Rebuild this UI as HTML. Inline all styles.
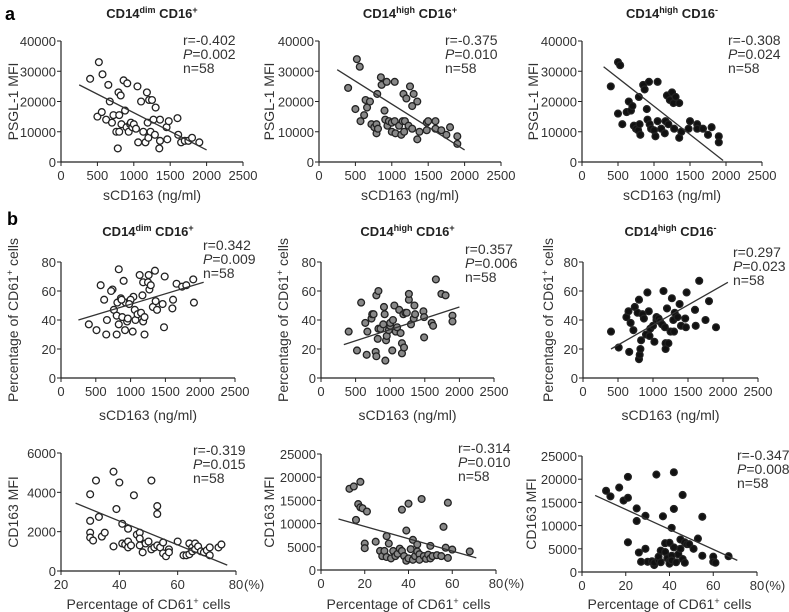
<!DOCTYPE html>
<html><head><meta charset="utf-8"><style>
body{margin:0;background:#fff}
svg{display:block;font-family:"Liberation Sans",sans-serif}
</style></head><body>
<svg id="fig" width="789" height="612" viewBox="0 0 789 612" xmlns="http://www.w3.org/2000/svg">
<text x="5" y="20" font-size="18" font-weight="bold">a</text>
<text x="7" y="225" font-size="18" font-weight="bold">b</text>
</svg>
<script>
// ---- data ----
const a1X=[400,520,570,500,560,620,650,670,700,720,760,780,790,800,800,820,830,860,880,900,910,930,950,960,980,1000,1030,1050,1060,1100,1130,1160,1180,1190,1200,1210,1230,1250,1270,1290,1300,1350,1360,1360,1450,1460,1480,1600,1610,1650,1700,1750,1800,1900];
const a1Y=[27500,33000,29000,15000,16500,14000,25500,20000,13000,15500,10000,4500,23000,15500,10000,22000,12500,27000,17000,11500,26000,10000,12500,13000,11500,12500,11000,25000,6500,20000,10000,6500,23000,13000,8000,20500,10000,20500,14000,9000,18000,4500,14000,7000,11500,7500,13500,14500,9000,6500,7000,7000,8000,6500];
const a2X=[400,500,520,560,570,620,640,660,700,720,760,790,790,800,810,850,860,900,910,930,940,960,1000,1000,1040,1040,1050,1100,1130,1150,1160,1170,1180,1200,1230,1250,1280,1280,1300,1350,1350,1380,1480,1480,1500,1600,1600,1680,1750,1800,1900,1900];
const a2Y=[24500,17500,34000,31500,13500,15500,20500,18000,20000,12500,11500,9500,12500,22500,11000,28000,25500,17000,14000,26500,12000,13500,13000,10000,26500,13500,9500,12000,9000,13500,22500,10000,13500,21000,12000,25000,18500,11000,22500,20000,7500,10000,13000,10500,13500,13500,11000,10500,9000,11500,8500,6000];
const a3X=[400,500,530,500,560,620,650,680,700,720,750,780,790,800,810,850,870,900,910,930,940,960,1000,1020,1050,1050,1100,1150,1160,1180,1200,1220,1250,1270,1280,1300,1350,1350,1380,1480,1500,1600,1600,1680,1750,1800,1900,1900];
const a3Y=[25000,33000,32000,16000,12500,16500,20000,17000,18500,12000,11000,10500,21500,12500,9000,25500,24000,17500,14000,26500,12500,11000,10500,8500,26500,13500,11000,9500,13500,22000,12500,20500,23000,19500,11000,21500,19500,8000,10000,11000,13500,12500,11000,11000,9000,11500,8500,6500];
const b1X=[400,510,570,620,650,660,740,760,800,800,810,830,830,860,880,900,920,930,950,960,990,1030,1040,1060,1070,1100,1130,1150,1170,1180,1180,1200,1200,1250,1260,1270,1290,1320,1350,1360,1380,1460,1480,1490,1600,1610,1660,1740,1800,1900,1910,1000,870,720,980];
const b1Y=[37,33,64,54,30,40,61,47,30,43,52,37,75,55,42,67,33,52,39,41,53,32,56,47,40,44,71,45,57,39,66,30,42,66,71,61,64,49,74,53,47,51,35,70,48,54,65,63,64,68,52,54,54,60,51];
const b2X=[400,520,580,640,660,670,730,740,760,790,800,800,820,830,830,860,900,910,920,930,940,950,980,1000,1000,1030,1040,1060,1080,1100,1130,1150,1170,1170,1190,1200,1220,1240,1270,1270,1300,1340,1350,1360,1480,1490,1490,1600,1620,1660,1740,1800,1900,1900];
const b2Y=[32,19,52,38,16,32,41,44,44,18,57,15,27,60,34,34,37,49,44,12,26,29,33,36,38,19,40,50,32,35,47,31,24,17,44,21,45,45,54,58,37,41,50,44,46,28,42,38,36,68,58,57,43,39];
const b3X=[400,510,620,650,660,680,720,740,780,800,800,810,820,830,850,870,900,920,940,950,960,1000,1020,1050,1050,1080,1100,1130,1150,1170,1180,1180,1200,1220,1250,1270,1290,1300,1310,1350,1380,1400,1460,1470,1480,1600,1610,1660,1750,1800,1900];
const b3Y=[32,21,42,46,18,38,33,49,45,54,13,16,20,26,44,41,30,59,46,29,34,36,25,40,42,41,39,37,60,35,24,20,48,24,32,55,40,32,45,42,51,36,41,35,59,47,36,67,40,53,35];
const c1X=[30,30,30,30,31,32,33,34,35,38,38,39,40,41,41,42,43,43,43,44,45,46,47,47,47,48,49,50,51,51,52,53,53,53,54,55,55,56,57,57,60,62,63,64,64,65,65,66,66,67,68,69,70,71,71,74,75];
const c1Y=[2550,3900,1950,1700,1550,4600,2750,1750,1950,5050,1250,3150,4500,2400,1400,1350,2150,1500,1200,1300,3850,1850,1950,1650,1300,950,1400,1500,1100,4600,1200,3300,2900,1300,1200,1450,900,750,1100,950,1500,800,800,1400,850,1200,1000,1100,1400,1250,1000,950,1050,1200,800,1200,1350];
const c2X=[13,15,16,17,18,18,19,20,20,21,25,27,28,29,30,30,31,32,33,34,35,36,37,37,38,39,39,40,40,41,42,42,43,44,44,45,45,46,47,48,49,50,50,51,53,55,56,57,58,58,60,68];
const c2Y=[17500,18000,10800,14200,19000,13500,13300,5700,4700,12600,6100,4100,3000,4100,7300,2800,5700,2500,4100,3000,3500,4600,13000,4100,3000,2000,8500,14300,2500,4500,2200,6500,3000,5500,4000,3400,2200,15300,3000,2400,3300,5200,2500,3000,3200,3000,9300,4800,14500,2600,4400,4000];
const c3X=[11,13,17,19,21,21,21,25,25,26,27,29,29,30,32,33,33,34,35,35,36,36,37,38,38,39,40,40,40,41,41,41,42,42,42,43,44,45,45,46,46,47,47,48,49,51,53,55,55,60,60,61,67];
const c3Y=[17500,16300,18200,15400,20500,16000,6400,13700,11000,4200,2200,12100,5000,2200,2300,1500,2000,21000,2500,3300,4600,2100,12000,4300,6200,3000,6300,2300,1800,9500,3500,2500,21500,13600,5300,2100,3800,7000,5000,16600,2800,6400,2000,6000,6000,5000,7200,11900,3500,3300,2200,2000,3400];
const sTicks=[0,500,1000,1500,2000,2500];
const psglTicks=[0,10000,20000,30000,40000];
const pctTicks=[0,20,40,60,80];
const c1XTicks=[20,40,60,80];
const c1YTicks=[0,2000,4000,6000];
const cXTicks=[0,20,40,60,80];
const cYTicks=[0,5000,10000,15000,20000,25000];

const NS="http://www.w3.org/2000/svg";
const svg=document.getElementById('fig');
function mk(tag,attrs,parent){const e=document.createElementNS(NS,tag);for(const k in attrs)e.setAttribute(k,attrs[k]);(parent||svg).appendChild(e);return e;}

function panel(o){
  const g=mk('g',{});
  
  
  const sx=v=>o.px0+(v-o.xmin)/(o.xmax-o.xmin)*(o.px1-o.px0);
  const sy=v=>o.py0-(v-o.ymin)/(o.ymax-o.ymin)*(o.py0-o.py1);
  const ax=mk('path',{d:`M${o.px0},${o.py1}V${o.py0}H${o.px1}`,stroke:'#222','stroke-width':1.2,fill:'none'},g);
  
  
  o.xt.forEach(t=>{
    mk('line',{x1:sx(t),x2:sx(t),y1:o.py0,y2:o.py0+4,stroke:'#222'},g);
    const tx=mk('text',{x:sx(t),y:o.py0+18,'font-size':13,'text-anchor':'middle',fill:'#333'},g);
    tx.textContent=t;
    
    
  });
  if(o.pctSuffix){const s=mk('text',{x:o.px1+8,y:o.py0+18,'font-size':13,fill:'#333'},g);s.textContent='(%)';
    
    }
  o.yt.forEach(t=>{
    mk('line',{x1:o.px0-4,x2:o.px0,y1:sy(t),y2:sy(t),stroke:'#222'},g);
    const ty=mk('text',{x:o.px0-5,y:sy(t)+5,'font-size':13,'text-anchor':'end',fill:'#333'},g);
    ty.textContent=t;
    
    
  });
  o.xs.forEach((x,i)=>{
    const c=mk('circle',{cx:sx(x),cy:sy(o.ys[i]),r:3.4,fill:o.fill,stroke:'#222','stroke-width':1.3},g);
    
    
  });
  const ln=mk('line',{x1:sx(o.line[0]),y1:sy(o.line[1]),x2:sx(o.line[2]),y2:sy(o.line[3]),stroke:'#333','stroke-width':1.3},g);
  
  
  const st=mk('text',{'font-size':14,fill:'#333'},g);
  
  
  st.innerHTML=`<tspan x="${o.sx}" y="${o.sy}">${o.stats[0]}</tspan><tspan x="${o.sx}" y="${o.sy+14}"><tspan font-style="italic">P</tspan>${o.stats[1]}</tspan><tspan x="${o.sx}" y="${o.sy+28}">n=58</tspan>`;
  if(o.title){const t=mk('text',{x:(o.px0+o.px1)/2,y:o.ty,'font-size':13,'font-weight':'bold','text-anchor':'middle',fill:'#222'},g);
    t.innerHTML=o.title;
    
    }
  const xl=mk('text',{x:o.xlx||(o.px0+o.px1)/2,y:o.xly,'font-size':14,'text-anchor':'middle',fill:'#333'},g);
  xl.innerHTML=o.xlabel;
  
  
  const yl=mk('text',{x:0,y:0,'font-size':14,'text-anchor':'middle',fill:'#333',transform:`translate(${o.ylx},${(o.py0+o.py1)/2}) rotate(-90)`},g);
  yl.innerHTML=o.ylabel;
  
  
}
const T1='CD14<tspan font-size="9" dy="-5">dim</tspan><tspan dy="5"> CD16</tspan><tspan font-size="9" dy="-5">+</tspan>';
const T2='CD14<tspan font-size="9" dy="-5">high</tspan><tspan dy="5"> CD16</tspan><tspan font-size="9" dy="-5">+</tspan>';
const T3='CD14<tspan font-size="9" dy="-5">high</tspan><tspan dy="5"> CD16</tspan><tspan font-size="9" dy="-5">-</tspan>';
const SX='sCD163 (ng/ml)';
const PCT='Percentage of CD61<tspan font-size="9" dy="-5">+</tspan><tspan dy="5"> cells</tspan>';
const common={xmin:0,xmax:2500,xt:sTicks};
panel({...common,name:'panel-a1',px0:61,px1:243,py0:162,py1:41,ymin:0,ymax:40000,yt:psglTicks,xs:a1X,ys:a1Y,fill:'#fff',line:[250,25500,2000,4000],stats:['r=-0.402','=0.002'],sx:183,sy:45,title:T1,ty:18,xlabel:SX,xly:200,ylabel:'PSGL-1 MFI',ylx:18});
panel({...common,name:'panel-a2',px0:319,px1:501,py0:162,py1:41,ymin:0,ymax:40000,yt:psglTicks,xs:a2X,ys:a2Y,fill:'#888',line:[250,30500,2000,4000],stats:['r=-0.375','=0.010'],sx:445,sy:45,title:T2,ty:18,xlabel:SX,xly:200,ylabel:'PSGL-1 MFI',ylx:274});
panel({...common,name:'panel-a3',px0:582,px1:762,py0:162,py1:41,ymin:0,ymax:40000,yt:psglTicks,xs:a3X,ys:a3Y,fill:'#111',line:[300,31500,1960,500],stats:['r=-0.308','=0.024'],sx:728,sy:45,title:T3,ty:18,xlabel:SX,xly:200,ylabel:'PSGL-1 MFI',ylx:538});
panel({...common,name:'panel-b1',px0:61,px1:235,py0:378,py1:262,ymin:0,ymax:80,yt:pctTicks,xs:b1X,ys:b1Y,fill:'#fff',line:[250,40,2050,66],stats:['r=0.342','=0.009'],sx:203,sy:250,title:T1,ty:236,xlabel:SX,xly:420,ylabel:PCT,ylx:18});
panel({...common,name:'panel-b2',px0:321,px1:494,py0:378,py1:262,ymin:0,ymax:80,yt:pctTicks,xs:b2X,ys:b2Y,fill:'#888',line:[330,23,2000,49],stats:['r=0.357','=0.006'],sx:465,sy:254,title:T2,ty:236,xlabel:SX,xly:420,ylabel:PCT,ylx:288});
panel({...common,name:'panel-b3',px0:583,px1:758,py0:378,py1:262,ymin:0,ymax:80,yt:pctTicks,xs:b3X,ys:b3Y,fill:'#111',line:[400,20,2070,66],stats:['r=0.297','=0.023'],sx:733,sy:257,title:T3,ty:236,xlabel:SX,xly:420,ylabel:PCT,ylx:553});
panel({name:'panel-c1',xmin:20,xmax:80,xt:c1XTicks,pctSuffix:true,px0:61,px1:236,py0:571,py1:453,ymin:0,ymax:6000,yt:c1YTicks,xs:c1X,ys:c1Y,fill:'#fff',line:[25,3450,77,300],stats:['r=-0.319','=0.015'],sx:193,sy:455,xlabel:PCT,xly:609,ylabel:'CD163 MFI',ylx:18});
panel({name:'panel-c2',xmin:0,xmax:80,xt:cXTicks,pctSuffix:true,px0:321,px1:496,py0:570,py1:454,ymin:0,ymax:25000,yt:cYTicks,xs:c2X,ys:c2Y,fill:'#888',line:[8,11000,71,2600],stats:['r=-0.314','=0.010'],sx:458,sy:453,xlabel:PCT,xly:609,ylabel:'CD163 MFI',ylx:274});
panel({name:'panel-c3',xmin:0,xmax:80,xt:cXTicks,pctSuffix:true,px0:582,px1:757,py0:572,py1:456,ymin:0,ymax:25000,yt:cYTicks,xs:c3X,ys:c3Y,fill:'#111',line:[6,16500,71,2500],stats:['r=-0.347','=0.008'],sx:737,sy:460,xlabel:PCT,xly:609,ylabel:'CD163 MFI',ylx:536});
</script>
</body></html>
